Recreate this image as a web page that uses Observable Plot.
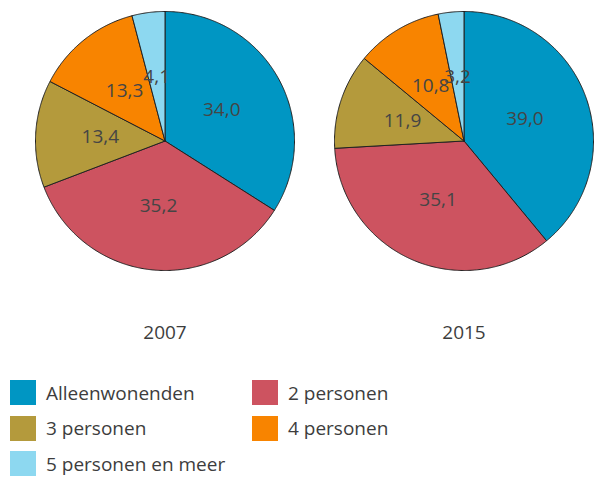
<!DOCTYPE html>
<html>
<head>
<meta charset="utf-8">
<script src="https://cdn.jsdelivr.net/npm/d3@7"></script>
<script src="https://cdn.jsdelivr.net/npm/@observablehq/plot@0.6"></script>
<style>
  body { margin: 0; background: #fff; font-family: "Open Sans", sans-serif; }
  #legend { display: grid; grid-template-columns: 242px auto; grid-auto-rows: 25px; row-gap: 10.5px; padding-left: 10px; margin-top: 25px; }
  .item { display: flex; align-items: center; font-size: 19px; color: #3d3d3d; }
  .sw { width: 26px; height: 25px; margin-right: 10px; flex: none; }
</style>
</head>
<body>
<div id="chart"></div>
<div id="legend"></div>
<script>
const years = ["2007", "2015"];
const categories = ["Alleenwonenden", "2 personen", "3 personen", "4 personen", "5 personen en meer"];
const values2007 = [34.0, 35.2, 13.4, 13.3, 4.1];
const values2015 = [39.0, 35.1, 11.9, 10.8, 3.2];
const colors = ["#0096c3", "#cd5360", "#b49a3c", "#f88400", "#8dd8f0"];

const valuesByYear = {"2007": values2007, "2015": values2015};
const pie = d3.pie().sort(null).value(d => d);

const outline = [];
const labels = [];
for (const year of years) {
  const arcs = pie(valuesByYear[year]);
  arcs.forEach((a, i) => {
    const key = year + "-" + i;
    const pts = [[0, 0]];
    const n = Math.max(2, Math.ceil((a.endAngle - a.startAngle) / (Math.PI / 360)));
    for (let k = 0; k <= n; k++) {
      const t = a.startAngle + (a.endAngle - a.startAngle) * k / n;
      pts.push([Math.sin(t), Math.cos(t)]);
    }
    pts.push([0, 0]);
    for (const [x, y] of pts) outline.push({year, key, category: categories[i], x, y});
    const m = (a.startAngle + a.endAngle) / 2;
    labels.push({year, category: categories[i], value: a.data, x: 0.5 * Math.sin(m), y: 0.5 * Math.cos(m)});
  });
}

const plot = Plot.plot({
  width: 594,
  height: 355,
  marginTop: 11,
  marginLeft: 35,
  marginRight: 1,
  marginBottom: 85,
  style: {fontFamily: "Open Sans, sans-serif"},
  fx: {domain: years, paddingInner: 0.1338, axis: null},
  x: {domain: [-1, 1], axis: null},
  y: {domain: [-1, 1], axis: null},
  color: {domain: categories, range: colors},
  marks: [
    Plot.line(outline, {fx: "year", x: "x", y: "y", z: "key", fill: "category", stroke: "#222", strokeWidth: 1, strokeLinejoin: "round"}),
    Plot.text(labels, {fx: "year", x: "x", y: "y", text: d => d.value.toFixed(1).replace(".", ","), fill: "#454545", fontSize: 19}),
    Plot.text(years, {fx: d => d, text: d => d, frameAnchor: "bottom", dy: 62, lineAnchor: "middle", fontSize: 19, fill: "#3d3d3d"})
  ]
});
document.getElementById("chart").appendChild(plot);

const color = plot.scale("color");
const legend = document.getElementById("legend");
categories.forEach(c => {
  const item = document.createElement("div");
  item.className = "item";
  const sw = document.createElement("span");
  sw.className = "sw";
  sw.style.background = color.apply(c);
  item.appendChild(sw);
  item.appendChild(document.createTextNode(c));
  legend.appendChild(item);
});
</script>
</body>
</html>
